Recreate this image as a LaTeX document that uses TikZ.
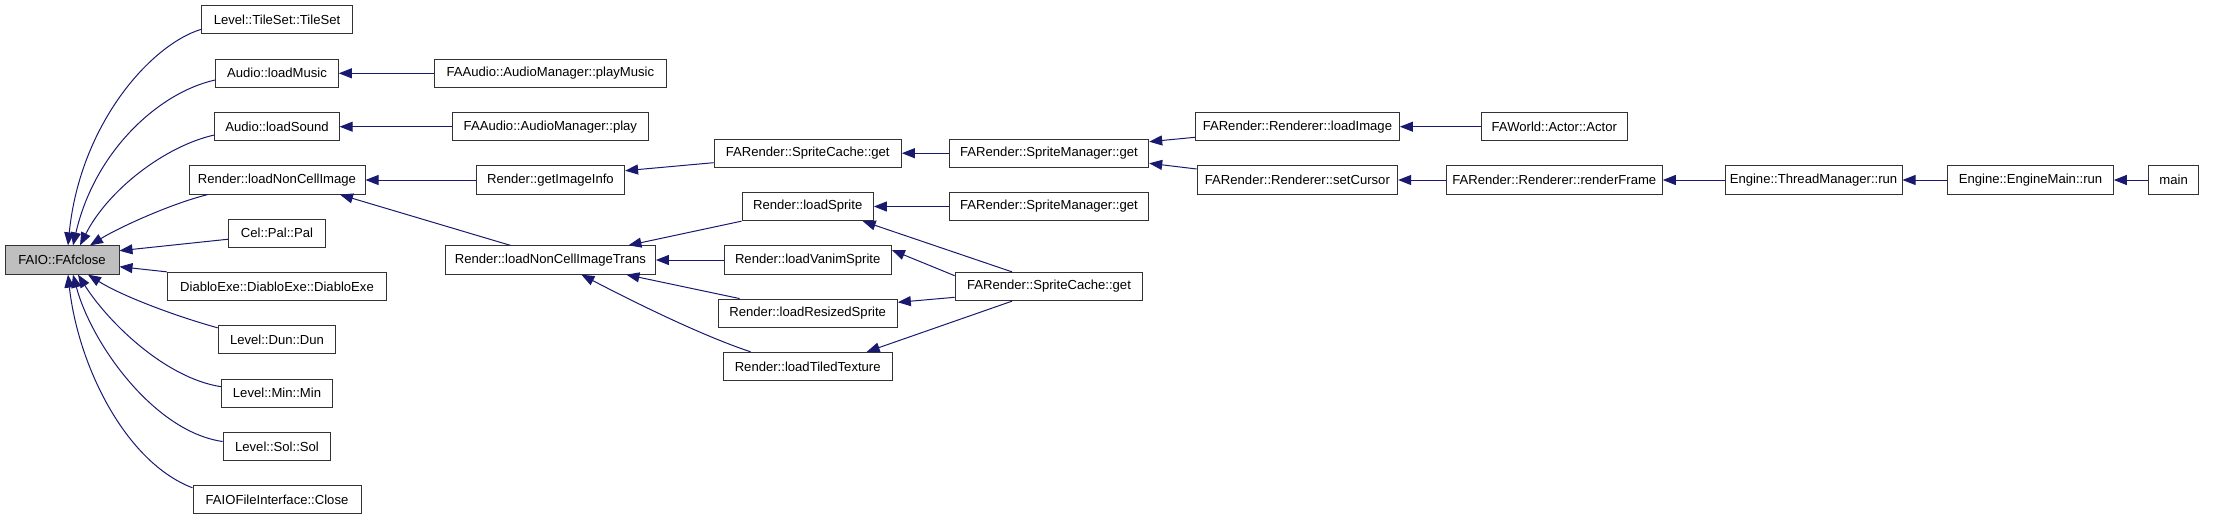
\documentclass[tikz,border=0pt]{standalone}
\usepackage{fontspec}
\setmainfont{Liberation Sans}
\usetikzlibrary{arrows.meta,calc}
\definecolor{edgeblue}{HTML}{191970}
\definecolor{boxline}{HTML}{333333}
\definecolor{hilite}{HTML}{BFBFBF}
\begin{document}
\begin{tikzpicture}[x=1pt,y=-1pt,
  fn/.style={draw=boxline, line width=1pt, fill=white, inner sep=0pt,
    minimum height=28.3pt, font=\fontsize{13.1}{15}\selectfont},
  cur/.style={fn, fill=hilite},
  edge/.style={draw=edgeblue, line width=1pt,
    -{Triangle[length=13pt,width=10pt,fill=edgeblue]}}]
\useasboundingbox (0,0) rectangle (2232,520);
% column 0
\node[cur, minimum width=114] (fafclose) at (62,260) {FAIO::FAfclose};
% column 1
\node[fn, minimum width=150.6] (tileset) at (277,19.8) {Level::TileSet::TileSet};
\node[fn, minimum width=122.6] (loadmusic) at (277,73.3) {Audio::loadMusic};
\node[fn, minimum width=124.3] (loadsound) at (277,126.7) {Audio::loadSound};
\node[fn, minimum width=176] (loadnci) at (277,180) {Render::loadNonCellImage};
\node[fn, minimum width=96.3] (celpal) at (277,233.2) {Cel::Pal::Pal};
\node[fn, minimum width=219.4] (diablo) at (277,286.5) {DiabloExe::DiabloExe::DiabloExe};
\node[fn, minimum width=117.7] (dun) at (277,339.8) {Level::Dun::Dun};
\node[fn, minimum width=111] (min) at (277,393.2) {Level::Min::Min};
\node[fn, minimum width=107.7] (sol) at (277,446.5) {Level::Sol::Sol};
\node[fn, minimum width=168] (close) at (277,499.8) {FAIOFileInterface::Close};
% column 2
\node[fn, minimum width=231.3] (playmusic) at (550.4,73.3) {FAAudio::AudioManager::playMusic};
\node[fn, minimum width=195.6] (play) at (550.4,126.7) {FAAudio::AudioManager::play};
\node[fn, minimum width=148.4] (getinfo) at (550.4,180) {Render::getImageInfo};
\node[fn, minimum width=210] (ncitrans) at (550.4,260) {Render::loadNonCellImageTrans};
% column 3
\node[fn, minimum width=187.3] (scget1) at (807.7,153.2) {FARender::SpriteCache::get};
\node[fn, minimum width=131.3] (loadsprite) at (807.7,206.5) {Render::loadSprite};
\node[fn, minimum width=167.3] (vanim) at (807.7,260) {Render::loadVanimSprite};
\node[fn, minimum width=179.3] (resized) at (807.7,313.2) {Render::loadResizedSprite};
\node[fn, minimum width=169] (tiled) at (807.7,366.5) {Render::loadTiledTexture};
% column 4
\node[fn, minimum width=199.4] (smget1) at (1049,153.2) {FARender::SpriteManager::get};
\node[fn, minimum width=199.4] (smget2) at (1049,206.5) {FARender::SpriteManager::get};
\node[fn, minimum width=187.7] (scget2) at (1049,286.5) {FARender::SpriteCache::get};
% column 5
\node[fn, minimum width=204] (loadimage) at (1297.4,126.7) {FARender::Renderer::loadImage};
\node[fn, minimum width=200.4] (setcursor) at (1297.4,180) {FARender::Renderer::setCursor};
% column 6
\node[fn, minimum width=146] (actor) at (1554.3,126.7) {FAWorld::Actor::Actor};
\node[fn, minimum width=216] (renderframe) at (1554.3,180) {FARender::Renderer::renderFrame};
% columns 7-9
\node[fn, minimum width=177] (threadmgr) at (1813.5,180) {Engine::ThreadManager::run};
\node[fn, minimum width=165.6] (enginemain) at (2030.5,180) {Engine::EngineMain::run};
\node[fn, minimum width=49.3] (main) at (2173.6,180) {main};

% edges into FAIO::FAfclose
\draw[edge] ($(tileset.west)+(0,9.5)$) .. controls (150,45) and (80,125) .. ($(fafclose.north)+(6,0)$);
\draw[edge] ($(loadmusic.west)+(0,6.7)$) .. controls (160,92) and (95,150) .. ($(fafclose.north)+(11,0)$);
\draw[edge] ($(loadsound.west)+(0,8.3)$) .. controls (165,146) and (108,190) .. ($(fafclose.north)+(18,0)$);
\draw[edge] ($(loadnci.south west)+(19,0)$) .. controls (170,204) and (118,228) .. ($(fafclose.north)+(28,0)$);
\draw[edge] ($(celpal.west)+(0,6)$) -- ($(fafclose.east)+(0,-9.3)$);
\draw[edge] ($(diablo.north west)$) -- ($(fafclose.east)+(0,6.7)$);
\draw[edge] ($(dun.west)+(0,-12)$) .. controls (175,316) and (122,296) .. ($(fafclose.south)+(26,0)$);
\draw[edge] ($(min.west)+(0,-6.5)$) .. controls (165,378) and (108,322) .. ($(fafclose.south)+(16,0)$);
\draw[edge] ($(sol.west)+(0,-5)$) .. controls (155,432) and (92,345) .. ($(fafclose.south)+(11,0)$);
\draw[edge] ($(close.west)+(0,-12)$) .. controls (125,462) and (78,365) .. ($(fafclose.south)+(6,0)$);

% column 2 -> column 1
\draw[edge] (playmusic.west) -- (loadmusic.east);
\draw[edge] (play.west) -- (loadsound.east);
\draw[edge] (getinfo.west) -- (loadnci.east);
\draw[edge] ($(ncitrans.north)+(-40,0)$) -- ($(loadnci.south)+(63,0)$);

% column 3 -> column 2
\draw[edge] ($(scget1.west)+(0,9.5)$) -- ($(getinfo.east)+(0,-9.3)$);
\draw[edge] ($(loadsprite.south west)+(0,0)$) -- ($(ncitrans.north)+(78,0)$);
\draw[edge] (vanim.west) -- (ncitrans.east);
\draw[edge] ($(resized.north west)+(22,0)$) -- ($(ncitrans.south)+(76,0)$);
\draw[edge] ($(tiled.north west)+(28,0)$) .. controls (700,335) and (630,300) .. ($(ncitrans.south)+(31,0)$);

% column 4 -> column 3
\draw[edge] (smget1.west) -- (scget1.east);
\draw[edge] (smget2.west) -- (loadsprite.east);
\draw[edge] ($(scget2.north)+(-37,0)$) -- ($(loadsprite.south)+(55,0)$);
\draw[edge] ($(scget2.west)+(0,-10.8)$) -- ($(vanim.east)+(0,-10)$);
\draw[edge] ($(scget2.west)+(0,10.8)$) -- ($(resized.east)+(0,-10.9)$);
\draw[edge] ($(scget2.south)+(-37,0)$) -- ($(tiled.north)+(59,0)$);

% column 5 -> column 4
\draw[edge] ($(loadimage.west)+(0,10.6)$) -- ($(smget1.east)+(0,-11.5)$);
\draw[edge] ($(setcursor.west)+(0,-11)$) -- ($(smget1.east)+(0,10.1)$);

% right chain
\draw[edge] (actor.west) -- (loadimage.east);
\draw[edge] (renderframe.west) -- (setcursor.east);
\draw[edge] (threadmgr.west) -- (renderframe.east);
\draw[edge] (enginemain.west) -- (threadmgr.east);
\draw[edge] (main.west) -- (enginemain.east);
\end{tikzpicture}
\end{document}
